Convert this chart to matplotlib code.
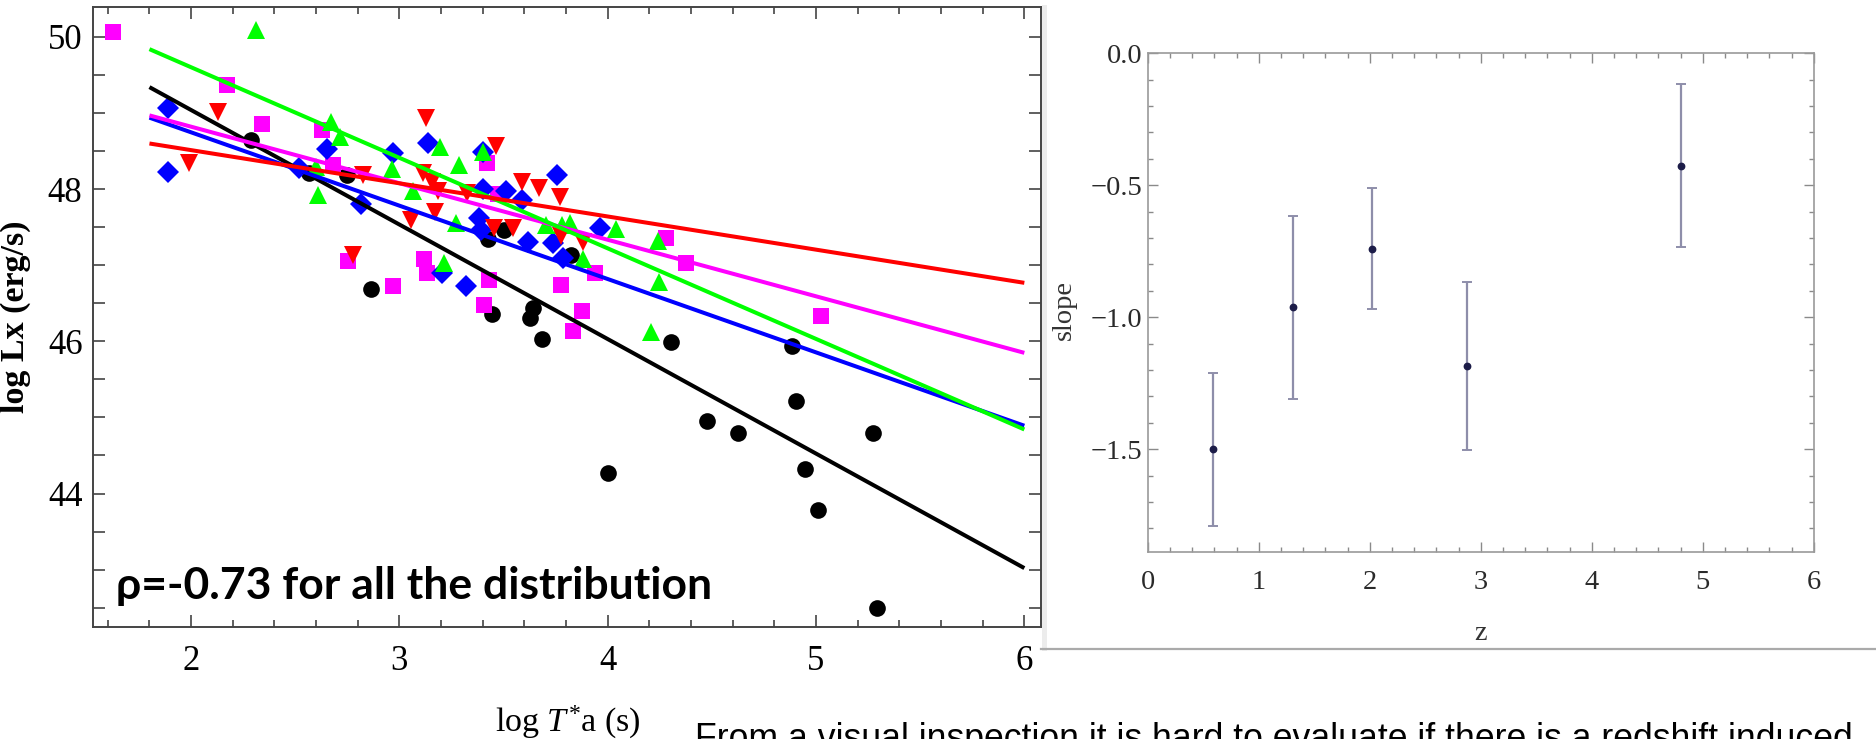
import matplotlib
matplotlib.use("Agg")
import matplotlib.pyplot as plt
from matplotlib.ticker import MultipleLocator, FixedLocator, FixedFormatter
from matplotlib.lines import Line2D
import numpy as np

# ---------------- data: left panel (log T*a vs log Lx) ----------------
black_x = [2.288, 2.566, 2.750, 2.864, 3.424, 3.443, 3.504, 3.627, 3.640, 3.683, 3.824,
           4.000, 4.304, 4.475, 4.624, 4.883, 4.904, 4.947, 5.011, 5.272, 5.291]
black_y = [48.64, 48.21, 48.19, 46.69, 47.34, 46.36, 47.46, 46.31, 46.44, 46.03, 47.14,
           44.27, 45.99, 44.95, 44.80, 45.94, 45.22, 44.32, 43.78, 44.80, 42.50]

magenta_x = [1.624, 2.171, 2.342, 2.627, 2.683, 2.755, 2.971, 3.118, 3.134, 3.408, 3.419,
             3.430, 3.475, 3.774, 3.832, 3.878, 3.939, 4.278, 4.374, 5.023]
magenta_y = [50.07, 49.37, 48.85, 48.78, 48.32, 47.05, 46.73, 47.08, 46.90, 46.48, 48.35,
             46.81, 47.94, 46.74, 46.13, 46.40, 46.90, 47.36, 47.03, 46.33]

blue_x = [1.888, 1.891, 2.520, 2.651, 2.814, 2.971, 3.136, 3.203, 3.318, 3.384, 3.390,
          3.403, 3.403, 3.512, 3.590, 3.616, 3.739, 3.758, 3.784, 3.963]
blue_y = [49.07, 48.22, 48.28, 48.53, 47.80, 48.48, 48.61, 46.90, 46.73, 47.62, 47.46,
          48.49, 48.00, 47.97, 47.86, 47.30, 47.29, 48.19, 47.10, 47.49]

green_x = [2.310, 2.598, 2.611, 2.672, 2.715, 2.966, 3.067, 3.195, 3.214, 3.270, 3.286,
           3.403, 3.704, 3.782, 3.819, 3.880, 4.040, 4.209, 4.243, 4.248]
green_y = [50.09, 48.29, 47.92, 48.88, 48.69, 48.27, 47.97, 48.56, 47.03, 47.55, 48.32,
           48.49, 47.53, 47.53, 47.56, 47.08, 47.47, 46.12, 47.32, 46.78]

red_x = [1.991, 2.128, 2.779, 2.827, 3.056, 3.115, 3.128, 3.155, 3.171, 3.184, 3.323,
         3.456, 3.462, 3.544, 3.587, 3.672, 3.771, 3.776, 3.880]
red_y = [48.35, 49.02, 47.14, 48.19, 47.59, 48.21, 48.93, 48.10, 47.70, 47.97, 47.95,
         47.49, 48.57, 47.49, 48.10, 48.01, 47.90, 47.38, 47.30]

# fitted lines (order: black, blue, magenta, green, red)
fit_x_range = [1.8, 6.0]
fit_intercepts = [52.05, 50.675, 50.307, 51.982, 49.385]
fit_slopes = [-1.505, -0.964, -0.743, -1.190, -0.436]

x_ticks_left = [2, 3, 4, 5, 6]
y_ticks_left = [44, 46, 48, 50]

# ---------------- data: right panel (slope vs z) ----------------
z_bins = [0.585, 1.312, 2.018, 2.874, 4.805]
slope_vals = [-1.500, -0.962, -0.740, -1.183, -0.426]
slope_errs = [0.290, 0.347, 0.229, 0.318, 0.309]
x_ticks_right = [0, 1, 2, 3, 4, 5, 6]
y_ticks_right = [0.0, -0.5, -1.0, -1.5]
y_ticklabels_right = ["0.0", "\u22120.5", "\u22121.0", "\u22121.5"]

rho_text = "\u03c1=-0.73 for all the distribution"
bottom_text = "From a visual inspection it is hard to evaluate if there is a redshift induced"

# ---------------- figure ----------------
W, H, DPI = 1876, 739, 100
plt.rcParams['font.family'] = ['Liberation Serif', 'DejaVu Serif']
plt.rcParams['mathtext.fontset'] = 'custom'
plt.rcParams['mathtext.rm'] = 'Liberation Serif'
plt.rcParams['mathtext.it'] = 'Liberation Serif:italic'

fig = plt.figure(figsize=(W / DPI, H / DPI), dpi=DPI)
fig.patch.set_facecolor('white')


def fx(px):
    return px / W


def fy(py):
    return 1 - py / H


# ---- left panel ----
axL = fig.add_axes([fx(93), fy(626.7), fx(1041) - fx(93), fy(7.3) - fy(626.7)])
scatter_groups = [
    (black_x, black_y, 'black', 'o', 12.0),
    (magenta_x, magenta_y, '#ff00ff', 's', 11.3),
    (blue_x, blue_y, '#0000ff', 'D', 11.2),
    (green_x, green_y, '#00ff00', '^', 12.5),
    (red_x, red_y, '#ff0000', 'v', 12.5),
]
for gx, gy, c, m, ms in scatter_groups:
    axL.plot(gx, gy, ls='none', marker=m, ms=ms, mfc=c, mec=c, mew=0, zorder=2)

line_colors = ['black', '#0000ff', '#ff00ff', '#00ff00', '#ff0000']
xs = np.array(fit_x_range)
for c, b, a in zip(line_colors, fit_intercepts, fit_slopes):
    axL.plot(xs, b + a * xs, color=c, lw=2.9, zorder=3, solid_capstyle='butt')

axL.set_xlim(1.529, 6.080)
axL.set_ylim(42.25, 50.39)
axL.xaxis.set_major_locator(FixedLocator(x_ticks_left))
axL.xaxis.set_minor_locator(MultipleLocator(0.2))
axL.yaxis.set_major_locator(FixedLocator(y_ticks_left))
axL.yaxis.set_minor_locator(MultipleLocator(0.5))
axL.tick_params(which='both', direction='in', top=True, right=True,
                color='#444444', width=1.2, labelsize=25)
axL.tick_params(axis='x', which='major', length=8.6, pad=13)
axL.tick_params(axis='x', which='minor', length=5)
axL.tick_params(axis='y', which='both', length=8.4, pad=7.5)
for sp in axL.spines.values():
    sp.set_color('#444444')
    sp.set_linewidth(1.4)

fig.text(fx(15), fy(317), "log Lx (erg/s)", rotation=90, ha='center', va='center',
         fontsize=24.5, fontweight='bold')
fig.text(fx(568), fy(732), r"log $T^{*}$a (s)", ha='center', va='baseline', fontsize=24.5)
fig.text(fx(116), fy(599), rho_text, ha='left', va='baseline', fontsize=32,
         fontweight='bold', family=['Lato', 'DejaVu Sans'])

# ---- inset frame decorations ----
fig.add_artist(Line2D([fx(1044), fx(1044)], [fy(7), fy(648)], transform=fig.transFigure,
                      color='#ececec', lw=3.6))
fig.add_artist(Line2D([fx(1041), 1.0], [fy(648.6), fy(648.6)], transform=fig.transFigure,
                      color='#aaaaaa', lw=1.6))

# ---- right panel ----
axR = fig.add_axes([fx(1147.7), fy(551.7), fx(1813.7) - fx(1147.7), fy(53.3) - fy(551.7)])
axR.errorbar(z_bins, slope_vals, yerr=slope_errs, fmt='o', ms=4.6, color='#1c1c48',
             ecolor='#8e8eaa', elinewidth=1.6, capsize=3.5, capthick=1.4, zorder=3)
axR.set_xlim(0, 6)
axR.set_ylim(-1.888, 0)
axR.xaxis.set_major_locator(FixedLocator(x_ticks_right))
axR.xaxis.set_minor_locator(MultipleLocator(0.2))
axR.yaxis.set_major_locator(FixedLocator(y_ticks_right))
axR.yaxis.set_major_formatter(FixedFormatter(y_ticklabels_right))
axR.yaxis.set_minor_locator(MultipleLocator(0.1))
axR.tick_params(which='both', direction='in', top=True, right=True, color='#8a8a8a',
                width=1.0, labelsize=20.5, labelcolor='#2a2a2a')
axR.tick_params(which='major', length=7)
axR.tick_params(which='minor', length=3.5)
axR.tick_params(axis='x', pad=13)
axR.tick_params(axis='y', pad=3.6)
for sp in axR.spines.values():
    sp.set_color('#9a9a9a')
    sp.set_linewidth(1.2)

fig.text(fx(1064), fy(310), "slope", rotation=90, ha='center', va='center',
         fontsize=20.5, color='#333333')
fig.text(fx(1480.7), fy(640), "z", ha='center', va='baseline', fontsize=20.5, color='#333333')

# ---- bottom caption (cut by the figure edge, as in the source slide) ----
fig.text(fx(695), fy(749), bottom_text, ha='left', va='baseline', fontsize=25.7,
         family=['Liberation Sans', 'DejaVu Sans'])

fig.savefig('out.png', dpi=DPI)
